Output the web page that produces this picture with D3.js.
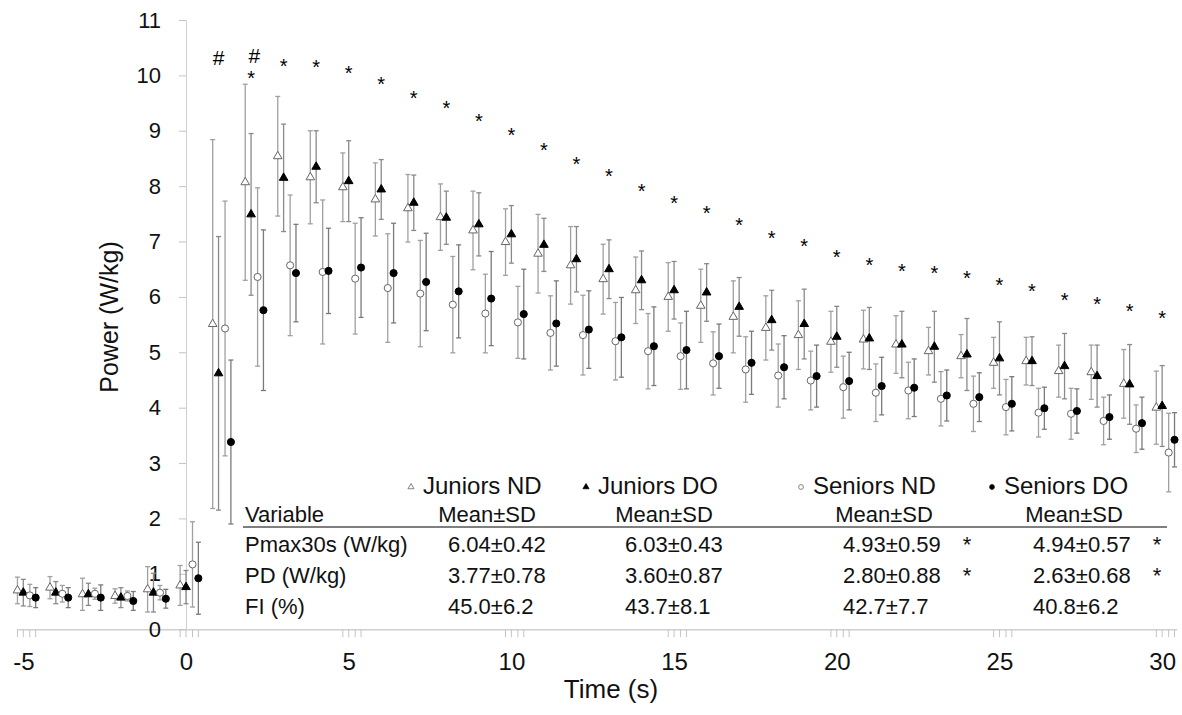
<!DOCTYPE html>
<html>
<head>
<meta charset="utf-8">
<script src="https://cdn.jsdelivr.net/npm/d3@7"></script>
<style>
  body { margin: 0; background: #fff; }
  svg { font-family: "Liberation Sans", Arial, sans-serif; }
</style>
</head>
<body>
<div id="chart"></div>
<script>
// seconds: 5 s baseline before the sprint, then 30 s of sprint
var seconds = d3.range(-5, 31);

var juniorsND = [0.70, 0.75, 0.63, 0.60, 0.72, 0.79,
    5.51, 8.07, 8.54, 8.16, 7.98, 7.76, 7.60, 7.44, 7.20, 6.99, 6.78, 6.57, 6.32, 6.12, 6.00,
    5.84, 5.64, 5.44, 5.31, 5.19, 5.23, 5.14, 5.02, 4.93, 4.81, 4.84, 4.66, 4.64, 4.43, 4.00];
var juniorsNDsd = [0.24, 0.20, 0.29, 0.13, 0.41, 0.36,
    3.33, 1.77, 1.08, 0.84, 0.62, 0.66, 0.61, 0.60, 0.71, 0.60, 0.71, 0.70, 0.63, 0.60, 0.62,
    0.66, 0.65, 0.58, 0.62, 0.55, 0.53, 0.52, 0.43, 0.39, 0.46, 0.43, 0.47, 0.49, 0.62, 0.66];

var juniorsDO = [0.66, 0.66, 0.63, 0.57, 0.66, 0.76,
    4.62, 7.49, 8.15, 8.35, 8.09, 7.94, 7.70, 7.43, 7.31, 7.13, 6.94, 6.68, 6.50, 6.30, 6.12,
    6.08, 5.82, 5.58, 5.51, 5.28, 5.25, 5.14, 5.10, 4.96, 4.89, 4.84, 4.75, 4.57, 4.42, 4.03];
var juniorsDOsd = [0.24, 0.20, 0.20, 0.18, 0.35, 0.30,
    2.47, 1.46, 0.97, 0.65, 0.73, 0.54, 0.50, 0.48, 0.57, 0.52, 0.48, 0.59, 0.53, 0.53, 0.52,
    0.52, 0.53, 0.54, 0.63, 0.55, 0.56, 0.60, 0.64, 0.65, 0.66, 0.44, 0.59, 0.56, 0.72, 0.73];

var seniorsND = [0.61, 0.64, 0.64, 0.60, 0.66, 1.17,
    5.43, 6.36, 6.57, 6.45, 6.33, 6.16, 6.06, 5.86, 5.70, 5.54, 5.35, 5.31, 5.20, 5.02, 4.93,
    4.80, 4.69, 4.58, 4.49, 4.37, 4.27, 4.31, 4.16, 4.07, 4.01, 3.91, 3.89, 3.76, 3.62, 3.19];
var seniorsNDsd = [0.20, 0.15, 0.10, 0.09, 0.13, 0.77,
    2.30, 1.61, 1.27, 1.30, 1.00, 0.98, 0.96, 0.87, 0.71, 0.65, 0.67, 0.72, 0.70, 0.68, 0.60,
    0.57, 0.59, 0.57, 0.53, 0.56, 0.52, 0.51, 0.49, 0.50, 0.50, 0.44, 0.46, 0.43, 0.43, 0.71];

var seniorsDO = [0.57, 0.57, 0.57, 0.51, 0.55, 0.92,
    3.38, 5.76, 6.43, 6.47, 6.53, 6.43, 6.27, 6.10, 5.97, 5.69, 5.52, 5.41, 5.27, 5.11, 5.04,
    4.93, 4.81, 4.73, 4.57, 4.48, 4.39, 4.36, 4.22, 4.19, 4.07, 3.99, 3.94, 3.83, 3.72, 3.42];
var seniorsDOsd = [0.18, 0.18, 0.23, 0.17, 0.17, 0.65,
    1.48, 1.45, 0.88, 0.77, 0.90, 0.90, 0.88, 0.84, 0.85, 0.81, 0.77, 0.70, 0.72, 0.71, 0.70,
    0.58, 0.57, 0.57, 0.56, 0.52, 0.52, 0.52, 0.46, 0.44, 0.49, 0.38, 0.40, 0.40, 0.47, 0.49];

// significance marks: * juniors vs seniors, # within group
var starSeconds = d3.range(2, 31);
var starLevels = [10.03, 10.24, 10.22, 10.11, 9.92, 9.66, 9.48, 9.24, 8.99, 8.72, 8.48, 8.25, 7.98,
    7.76, 7.59, 7.37, 7.14, 6.99, 6.79, 6.64, 6.54, 6.50, 6.41, 6.29, 6.18, 6.02, 5.94, 5.81, 5.69];
var hashSeconds = [1, 2.1];
var hashLevels = [10.33, 10.36];

var xTicks = [-5, 0, 5, 10, 15, 20, 25, 30];
var yTicks = d3.range(0, 12);

// inset table
var groupNames = ["Juniors ND", "Juniors DO", "Seniors ND", "Seniors DO"];
var tableVars = ["Pmax30s (W/kg)", "PD (W/kg)", "FI (%)"];
var tableJND = ["6.04±0.42", "3.77±0.78", "45.0±6.2"];
var tableJDO = ["6.03±0.43", "3.60±0.87", "43.7±8.1"];
var tableSND = ["4.93±0.59", "2.80±0.88", "42.7±7.7"];
var tableSDO = ["4.94±0.57", "2.63±0.68", "40.8±6.2"];
var tableSig = [["", "", "*", "*"], ["", "", "*", "*"], ["", "", "", ""]];

var W = 1182, H = 715;
var svg = d3.select("#chart").append("svg").attr("width", W).attr("height", H);

var x = d3.scaleLinear().domain([-5.2, 30.45]).range([16.8, 1176.8]);
var y = d3.scaleLinear().domain([0, 11]).range([629.2, 20]);

// each group sits a bit to the side of the full second
var series = [
    {name: groupNames[0], mean: juniorsND, sd: juniorsNDsd, shift: -0.18, shape: d3.symbolTriangle, filled: false, bar: "#a0a0a0"},
    {name: groupNames[1], mean: juniorsDO, sd: juniorsDOsd, shift: 0, shape: d3.symbolTriangle, filled: true, bar: "#8a8a8a"},
    {name: groupNames[2], mean: seniorsND, sd: seniorsNDsd, shift: 0.2, shape: d3.symbolCircle, filled: false, bar: "#a0a0a0"},
    {name: groupNames[3], mean: seniorsDO, sd: seniorsDOsd, shift: 0.38, shape: d3.symbolCircle, filled: true, bar: "#7a7a7a"}
];

// axes
var xAxis = svg.append("g")
    .attr("transform", "translate(0," + y(0) + ")")
    .call(d3.axisBottom(x).tickValues(xTicks).tickSize(0).tickSizeOuter(0).tickPadding(24)
        .tickFormat(function (d) { return String(d); }));
xAxis.select(".domain").attr("stroke", "#cfcfcf").attr("stroke-width", 1.5);
xAxis.selectAll("text").style("font-size", "24px").attr("fill", "#111");

// small tick marks, one per group, at every 5 s
series.forEach(function (s) {
    xAxis.selectAll(null)
        .data(xTicks)
        .enter().append("line")
        .attr("x1", function (d) { return x(d + s.shift); })
        .attr("x2", function (d) { return x(d + s.shift); })
        .attr("y1", 0).attr("y2", 8)
        .attr("stroke", "#c4c4c4").attr("stroke-width", 1);
});

var yAxis = svg.append("g")
    .attr("transform", "translate(" + x(0) + ",0)")
    .call(d3.axisLeft(y).tickValues(yTicks).tickSize(7).tickSizeOuter(0).tickPadding(18));
yAxis.select(".domain").attr("stroke", "#cfcfcf").attr("stroke-width", 1);
yAxis.selectAll(".tick line").attr("stroke", "#c4c4c4");
yAxis.selectAll("text").style("font-size", "22px").attr("fill", "#111");

svg.append("text")
    .attr("transform", "translate(118,317) rotate(-90)")
    .attr("text-anchor", "middle")
    .style("font-size", "25px")
    .attr("fill", "#111")
    .text("Power (W/kg)");

svg.append("text")
    .attr("x", 611).attr("y", 698)
    .attr("text-anchor", "middle")
    .style("font-size", "26px")
    .attr("fill", "#111")
    .text("Time (s)");

// error bars
series.forEach(function (s) {
    var g = svg.append("g").attr("stroke", s.bar).attr("stroke-width", 1.3);
    seconds.forEach(function (t, i) {
        var cx = x(t + s.shift);
        var lo = y(s.mean[i] - s.sd[i]), hi = y(s.mean[i] + s.sd[i]);
        g.append("line").attr("x1", cx).attr("x2", cx).attr("y1", lo).attr("y2", hi);
        g.append("line").attr("x1", cx - 2.5).attr("x2", cx + 2.5).attr("y1", lo).attr("y2", lo);
        g.append("line").attr("x1", cx - 2.5).attr("x2", cx + 2.5).attr("y1", hi).attr("y2", hi);
    });
});

// markers
series.forEach(function (s) {
    var sym = d3.symbol().type(s.shape).size(s.shape === d3.symbolTriangle ? 32 : 40);
    svg.append("g").selectAll("path")
        .data(s.mean)
        .enter().append("path")
        .attr("d", sym)
        .attr("transform", function (d, i) {
            return "translate(" + x(seconds[i] + s.shift) + "," + y(d) + ")";
        })
        .attr("fill", s.filled ? "#000" : "#fff")
        .attr("stroke", s.filled ? "#000" : "#666")
        .attr("stroke-width", 1);
});

// significance
svg.append("g").selectAll("text")
    .data(starLevels)
    .enter().append("text")
    .attr("x", function (d, i) { return x(starSeconds[i]); })
    .attr("y", function (d) { return y(d) + 11; })
    .attr("text-anchor", "middle")
    .style("font-size", "20px")
    .text("*");

svg.append("g").selectAll("text")
    .data(hashLevels)
    .enter().append("text")
    .attr("x", function (d, i) { return x(hashSeconds[i]); })
    .attr("y", function (d) { return y(d) + 8; })
    .attr("text-anchor", "middle")
    .style("font-size", "21px")
    .text("#");

// inset table
var table = svg.append("g").attr("fill", "#111");
var legendX = [423, 598, 813, 1004];
var centerX = [487, 664, 884, 1074];
var valueX = [448, 625, 843, 1033];
var sigX = [0, 0, 967, 1157];
var rowY = [552, 583, 614];
var cols = [tableJND, tableJDO, tableSND, tableSDO];

series.forEach(function (s, j) {
    table.append("path")
        .attr("d", d3.symbol().type(s.shape).size(s.shape === d3.symbolTriangle ? 16 : 18))
        .attr("transform", "translate(" + (legendX[j] - 12) + ",487)")
        .attr("fill", s.filled ? "#000" : "#fff")
        .attr("stroke", s.filled ? "#000" : "#666")
        .attr("stroke-width", 0.8);
    table.append("text")
        .attr("x", legendX[j]).attr("y", 494)
        .style("font-size", "24px")
        .text(s.name);
    table.append("text")
        .attr("x", centerX[j]).attr("y", 522)
        .attr("text-anchor", "middle")
        .style("font-size", "22px")
        .text("Mean±SD");
    cols[j].forEach(function (v, r) {
        table.append("text")
            .attr("x", valueX[j]).attr("y", rowY[r])
            .style("font-size", "22px")
            .text(v);
        if (tableSig[r][j]) {
            table.append("text")
                .attr("x", sigX[j]).attr("y", rowY[r])
                .attr("text-anchor", "middle")
                .style("font-size", "22px")
                .text(tableSig[r][j]);
        }
    });
});

table.append("text")
    .attr("x", 245).attr("y", 522)
    .style("font-size", "22px")
    .text("Variable");

table.append("line")
    .attr("x1", 243).attr("x2", 1167)
    .attr("y1", 527).attr("y2", 527)
    .attr("stroke", "#555").attr("stroke-width", 1.5);

tableVars.forEach(function (v, r) {
    table.append("text")
        .attr("x", 245).attr("y", rowY[r])
        .style("font-size", "22px")
        .text(v);
});
</script>
</body>
</html>
